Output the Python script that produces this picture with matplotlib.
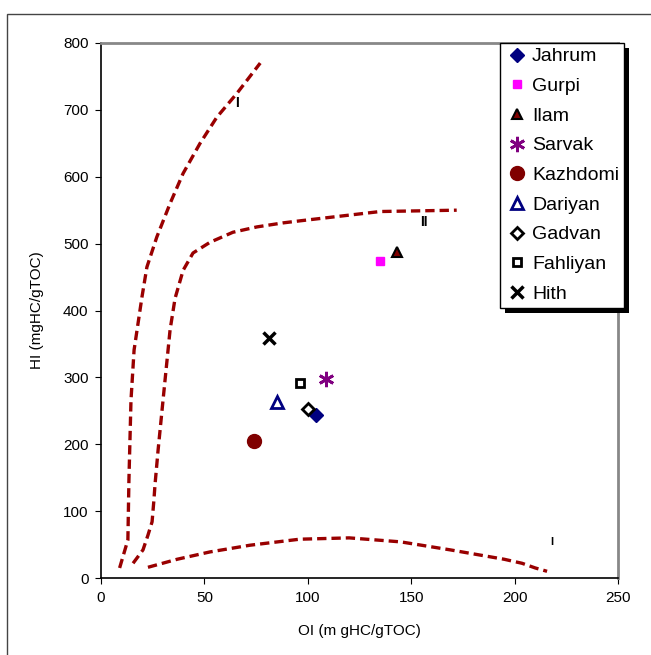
import matplotlib
matplotlib.use("Agg")
import matplotlib.pyplot as plt
from matplotlib.patches import Rectangle

plt.rcParams['font.family'] = ['Liberation Sans', 'DejaVu Sans']

# sample points (OI, HI)
names = ['Jahrum', 'Gurpi', 'Ilam', 'Sarvak', 'Kazhdomi', 'Dariyan', 'Gadvan', 'Fahliyan', 'Hith']
oi = [104, 135, 143, 109, 74, 85, 100, 96, 81]
hi = [244, 474, 487, 298, 205, 263, 252, 292, 359]

# kerogen type boundary curves
t1_x = [9, 13, 13.5, 14.5, 16, 19.8, 22.2, 27, 33.4, 39.7, 47.9, 56, 65.8, 77]
t1_y = [15, 57, 146, 266, 341, 420, 465, 510, 560, 605, 650, 689, 725, 770]
t2_x = [15.5, 20.3, 22.7, 24.7, 25.6, 26.1, 27.6, 30, 33.4, 35.8, 39.7, 44.5, 52.7, 63.8, 75.4, 88, 96, 135, 172]
t2_y = [22, 42, 64, 84, 117, 139, 191, 266, 371, 418, 460, 486, 502, 517, 525, 531, 534, 548, 550]
t3_x = [22.7, 36.8, 52.7, 72, 96, 120, 145, 169, 195, 203.6, 210, 215.7]
t3_y = [16, 28, 39, 49, 58, 60, 54, 42, 28, 22, 15, 10]

styles = [
    dict(marker='D', color='#000080', ms=7, mec='#000080'),
    dict(marker='s', color='#FF00FF', ms=6, mec='#FF00FF'),
    dict(marker='^', color='#800000', ms=7, mec='black', mew=1.5),
    dict(marker=(6, 2, 0), color='#800080', ms=11, mec='#800080', mew=2),
    dict(marker='o', color='#800000', ms=10, mec='#800000'),
    dict(marker='^', color='white', ms=8, mec='#000080', mew=2),
    dict(marker='D', color='white', ms=6, mec='black', mew=2),
    dict(marker='s', color='white', ms=5.5, mec='black', mew=2),
    dict(marker='x', color='black', ms=8, mec='black', mew=2.5),
]

fig = plt.figure(figsize=(6.51, 6.55), dpi=100)
ax = fig.add_axes([101/651, 1-578/655, 517/651, 535/655])

dash = dict(color='#990000', lw=2.4, ls=(0, (2.8, 1.5)))
ax.plot(t1_x, t1_y, **dash)
ax.plot(t2_x, t2_y, **dash)
ax.plot(t3_x, t3_y, **dash)

for n, x, y, st in zip(names, oi, hi, styles):
    ax.plot([x], [y], ls='none', label=n, **st)

ax.text(66, 711, 'I', fontsize=10, fontweight='bold', ha='center', va='center')
ax.text(156, 532, 'II', fontsize=10, fontweight='bold', ha='center', va='center')
ax.text(218, 54, 'I', fontsize=8, fontweight='bold', ha='center', va='center')

ax.set_xlim(0, 250)
ax.set_ylim(0, 800)
ax.set_xticks(range(0, 251, 50))
ax.set_yticks(range(0, 801, 100))
ax.tick_params(direction='out', length=4, labelsize=11, colors='black', pad=5)
for s in ['top', 'right']:
    ax.spines[s].set_color('#888888')
    ax.spines[s].set_linewidth(2)
for s in ['left', 'bottom']:
    ax.spines[s].set_linewidth(1.2)

ax.set_xlabel('OI (m gHC/gTOC)', fontsize=11, labelpad=14)
ax.set_ylabel('HI (mgHC/gTOC)', fontsize=11, labelpad=14)

leg = ax.legend(loc='upper left', bbox_to_anchor=(399/517, 1.0), fontsize=14,
                frameon=True, fancybox=False, edgecolor='black', framealpha=1,
                facecolor='white', borderpad=0.25, labelspacing=0.62,
                handletextpad=0.2, handlelength=1.2, borderaxespad=0)
leg.get_frame().set_linewidth(1)
leg.set_zorder(10)

# black drop shadow behind the legend box
fig.canvas.draw()
bb = leg.get_frame().get_window_extent()
ax.add_patch(Rectangle((bb.x0 + 5, bb.y0 - 5), bb.width, bb.height,
                       transform=None, facecolor='black', edgecolor='none',
                       zorder=9, clip_on=False))

fig.patches.append(Rectangle((7/651, -0.1), 1.2, 1.1 - 14/655,
                             transform=fig.transFigure, fill=False,
                             edgecolor='#444444', lw=1))

fig.savefig('out.png', dpi=100)
